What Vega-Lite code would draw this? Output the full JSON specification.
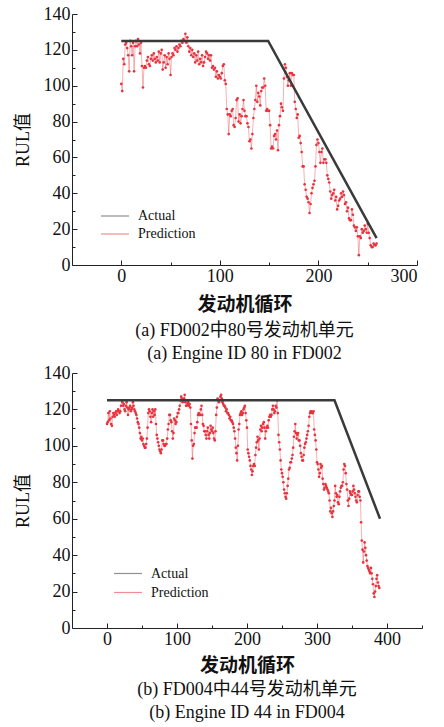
{
  "$schema": "https://vega.github.io/schema/vega-lite/v6.json",
  "padding": {"left": 14, "top": 5, "right": 0, "bottom": 0},
  "background": "white",
  "spacing": 1,
  "resolve": {"scale": {"color": "independent"}, "legend": {"color": "independent"}},
  "config": {
    "view": {"stroke": null},
    "font": "Liberation Serif, Noto Sans CJK SC",
    "axis": {
      "labelFont": "Liberation Serif", "labelFontSize": 18, "labelColor": "#111",
      "titleFont": "Liberation Serif, Noto Sans CJK SC", "titleFontSize": 18, "titleColor": "#111", "titleFontWeight": "normal",
      "domainColor": "#222", "tickColor": "#222", "grid": false
    },
    "axisX": {"labelPadding": 7, "titlePadding": 10},
    "axisY": {"labelPadding": 7, "titlePadding": 11},
    "legend": {"labelFont": "Liberation Serif", "labelFontSize": 14, "labelColor": "#111"},
    "title": {"font": "Liberation Serif, Noto Sans CJK SC", "fontSize": 18, "fontWeight": "normal", "color": "#111"}
  },
  "datasets": {
    "a1": [{"c":0,"v":125},{"c":149,"v":125},{"c":259,"v":15}],
    "a2": [{"c":0,"v":125},{"c":325,"v":125},{"c":390,"v":60}],
    "p1": [
{"c":0,"v":101},{"c":1,"v":97},{"c":2,"v":115},{"c":3,"v":112},{"c":4,"v":123},{"c":5,"v":124},{"c":6,"v":121},{"c":7,"v":117},{"c":8,"v":108},{"c":9,"v":125},
{"c":10,"v":122},{"c":11,"v":117},{"c":12,"v":124},{"c":13,"v":108},{"c":14,"v":122},{"c":15,"v":125},{"c":16,"v":122},{"c":17,"v":126},{"c":18,"v":123},{"c":19,"v":118},
{"c":20,"v":124},{"c":21,"v":111},{"c":22,"v":99},{"c":23,"v":110},{"c":24,"v":111},{"c":25,"v":110},{"c":26,"v":114},{"c":27,"v":116},{"c":28,"v":112},{"c":29,"v":111},
{"c":30,"v":115},{"c":31,"v":117},{"c":32,"v":114},{"c":33,"v":118},{"c":34,"v":115},{"c":35,"v":113},{"c":36,"v":116},{"c":37,"v":114},{"c":38,"v":119},{"c":39,"v":113},
{"c":40,"v":118},{"c":41,"v":120},{"c":42,"v":109},{"c":43,"v":113},{"c":44,"v":117},{"c":45,"v":110},{"c":46,"v":116},{"c":47,"v":112},{"c":48,"v":118},{"c":49,"v":115},
{"c":50,"v":106},{"c":51,"v":116},{"c":52,"v":118},{"c":53,"v":117},{"c":54,"v":121},{"c":55,"v":120},{"c":56,"v":122},{"c":57,"v":119},{"c":58,"v":121},{"c":59,"v":123},
{"c":60,"v":122},{"c":61,"v":125},{"c":62,"v":124},{"c":63,"v":126},{"c":64,"v":125},{"c":65,"v":129},{"c":66,"v":124},{"c":67,"v":127},{"c":68,"v":122},{"c":69,"v":119},
{"c":70,"v":121},{"c":71,"v":117},{"c":72,"v":120},{"c":73,"v":116},{"c":74,"v":118},{"c":75,"v":113},{"c":76,"v":117},{"c":77,"v":114},{"c":78,"v":119},{"c":79,"v":112},
{"c":80,"v":115},{"c":81,"v":113},{"c":82,"v":117},{"c":83,"v":111},{"c":84,"v":113},{"c":85,"v":116},{"c":86,"v":119},{"c":87,"v":118},{"c":88,"v":115},{"c":89,"v":117},
{"c":90,"v":114},{"c":91,"v":117},{"c":92,"v":110},{"c":93,"v":111},{"c":94,"v":109},{"c":95,"v":110},{"c":96,"v":105},{"c":97,"v":108},{"c":98,"v":104},{"c":99,"v":106},
{"c":100,"v":105},{"c":101,"v":104},{"c":102,"v":107},{"c":103,"v":111},{"c":104,"v":112},{"c":105,"v":103},{"c":106,"v":101},{"c":107,"v":87},{"c":108,"v":84},{"c":109,"v":73},
{"c":110,"v":84},{"c":111,"v":83},{"c":112,"v":86},{"c":113,"v":87},{"c":114,"v":78},{"c":115,"v":77},{"c":116,"v":82},{"c":117,"v":92},{"c":118,"v":93},{"c":119,"v":80},
{"c":120,"v":84},{"c":121,"v":79},{"c":122,"v":83},{"c":123,"v":87},{"c":124,"v":92},{"c":125,"v":86},{"c":126,"v":83},{"c":127,"v":83},{"c":128,"v":79},{"c":129,"v":77},
{"c":130,"v":69},{"c":131,"v":70},{"c":132,"v":65},{"c":133,"v":73},{"c":134,"v":82},{"c":135,"v":87},{"c":136,"v":92},{"c":137,"v":100},{"c":138,"v":91},{"c":139,"v":96},
{"c":140,"v":94},{"c":141,"v":89},{"c":142,"v":97},{"c":143,"v":99},{"c":144,"v":99},{"c":145,"v":104},{"c":146,"v":100},{"c":147,"v":86},{"c":148,"v":87},{"c":149,"v":86},
{"c":150,"v":86},{"c":151,"v":78},{"c":152,"v":65},{"c":153,"v":66},{"c":154,"v":65},{"c":155,"v":72},{"c":156,"v":73},{"c":157,"v":70},{"c":158,"v":75},{"c":159,"v":64},
{"c":160,"v":78},{"c":161,"v":83},{"c":162,"v":90},{"c":163,"v":88},{"c":164,"v":86},{"c":165,"v":104},{"c":166,"v":112},{"c":167,"v":110},{"c":168,"v":105},{"c":169,"v":100},
{"c":170,"v":103},{"c":171,"v":107},{"c":172,"v":100},{"c":173,"v":107},{"c":174,"v":106},{"c":175,"v":106},{"c":176,"v":91},{"c":177,"v":87},{"c":178,"v":82},{"c":179,"v":84},
{"c":180,"v":71},{"c":181,"v":72},{"c":182,"v":68},{"c":183,"v":63},{"c":184,"v":55},{"c":185,"v":55},{"c":186,"v":45},{"c":187,"v":42},{"c":188,"v":38},{"c":189,"v":37},
{"c":190,"v":35},{"c":191,"v":29},{"c":192,"v":34},{"c":193,"v":40},{"c":194,"v":43},{"c":195,"v":45},{"c":196,"v":47},{"c":197,"v":55},{"c":198,"v":67},{"c":199,"v":70},
{"c":200,"v":68},{"c":201,"v":63},{"c":202,"v":57},{"c":203,"v":63},{"c":204,"v":65},{"c":205,"v":57},{"c":206,"v":59},{"c":207,"v":59},{"c":208,"v":57},{"c":209,"v":50},
{"c":210,"v":48},{"c":211,"v":46},{"c":212,"v":41},{"c":213,"v":37},{"c":214,"v":39},{"c":215,"v":40},{"c":216,"v":42},{"c":217,"v":36},{"c":218,"v":38},{"c":219,"v":31},
{"c":220,"v":33},{"c":221,"v":36},{"c":222,"v":37},{"c":223,"v":40},{"c":224,"v":38},{"c":225,"v":41},{"c":226,"v":39},{"c":227,"v":34},{"c":228,"v":35},{"c":229,"v":30},
{"c":230,"v":32},{"c":231,"v":26},{"c":232,"v":25},{"c":233,"v":25},{"c":234,"v":31},{"c":235,"v":28},{"c":236,"v":22},{"c":237,"v":21},{"c":238,"v":19},{"c":239,"v":21},
{"c":240,"v":16},{"c":241,"v":5.5},{"c":242,"v":16},{"c":243,"v":15},{"c":244,"v":20},{"c":245,"v":18},{"c":246,"v":19},{"c":247,"v":22},{"c":248,"v":20},{"c":249,"v":18},
{"c":250,"v":23},{"c":251,"v":18},{"c":252,"v":15},{"c":253,"v":11},{"c":254,"v":10},{"c":255,"v":10},{"c":256,"v":12},{"c":257,"v":11},{"c":258,"v":11},{"c":259,"v":12}
    ],
    "p2": [
{"c":0,"v":112},{"c":1,"v":113},{"c":2,"v":118},{"c":3,"v":114},{"c":4,"v":119},{"c":5,"v":115},{"c":6,"v":112},{"c":7,"v":111},{"c":8,"v":116},{"c":9,"v":118},
{"c":10,"v":117},{"c":11,"v":116},{"c":12,"v":118},{"c":13,"v":119},{"c":14,"v":117},{"c":15,"v":119},{"c":16,"v":120},{"c":17,"v":119},{"c":18,"v":118},{"c":19,"v":119},
{"c":20,"v":122},{"c":21,"v":125},{"c":22,"v":124},{"c":23,"v":122},{"c":24,"v":123},{"c":25,"v":120},{"c":26,"v":119},{"c":27,"v":122},{"c":28,"v":124},{"c":29,"v":121},
{"c":30,"v":117},{"c":31,"v":120},{"c":32,"v":121},{"c":33,"v":122},{"c":34,"v":119},{"c":35,"v":120},{"c":36,"v":121},{"c":37,"v":124},{"c":38,"v":122},{"c":39,"v":120},
{"c":40,"v":119},{"c":41,"v":118},{"c":42,"v":117},{"c":43,"v":115},{"c":44,"v":113},{"c":45,"v":112},{"c":46,"v":110},{"c":47,"v":107},{"c":48,"v":104},{"c":49,"v":105},
{"c":50,"v":103},{"c":51,"v":104},{"c":52,"v":101},{"c":53,"v":100},{"c":54,"v":99},{"c":55,"v":99},{"c":56,"v":101},{"c":57,"v":104},{"c":58,"v":110},{"c":59,"v":118},
{"c":60,"v":120},{"c":61,"v":119},{"c":62,"v":116},{"c":63,"v":113},{"c":64,"v":118},{"c":65,"v":120},{"c":66,"v":116},{"c":67,"v":119},{"c":68,"v":117},{"c":69,"v":120},
{"c":70,"v":112},{"c":71,"v":106},{"c":72,"v":104},{"c":73,"v":102},{"c":74,"v":100},{"c":75,"v":98},{"c":76,"v":97},{"c":77,"v":96},{"c":78,"v":98},{"c":79,"v":103},
{"c":80,"v":103},{"c":81,"v":101},{"c":82,"v":100},{"c":83,"v":100},{"c":84,"v":101},{"c":85,"v":101},{"c":86,"v":104},{"c":87,"v":109},{"c":88,"v":112},{"c":89,"v":117},
{"c":90,"v":117},{"c":91,"v":114},{"c":92,"v":113},{"c":93,"v":108},{"c":94,"v":104},{"c":95,"v":107},{"c":96,"v":115},{"c":97,"v":114},{"c":98,"v":112},{"c":99,"v":113},
{"c":100,"v":116},{"c":101,"v":118},{"c":102,"v":118},{"c":103,"v":120},{"c":104,"v":122},{"c":105,"v":125},{"c":106,"v":127},{"c":107,"v":126},{"c":108,"v":124},{"c":109,"v":125},
{"c":110,"v":126},{"c":111,"v":128},{"c":112,"v":124},{"c":113,"v":122},{"c":114,"v":122},{"c":115,"v":123},{"c":116,"v":124},{"c":117,"v":122},{"c":118,"v":123},{"c":119,"v":121},
{"c":120,"v":112},{"c":121,"v":103},{"c":122,"v":93},{"c":123,"v":100},{"c":124,"v":101},{"c":125,"v":107},{"c":126,"v":110},{"c":127,"v":110},{"c":128,"v":110},{"c":129,"v":113},
{"c":130,"v":117},{"c":131,"v":118},{"c":132,"v":117},{"c":133,"v":117},{"c":134,"v":120},{"c":135,"v":122},{"c":136,"v":117},{"c":137,"v":112},{"c":138,"v":111},{"c":139,"v":108},
{"c":140,"v":108},{"c":141,"v":106},{"c":142,"v":104},{"c":143,"v":108},{"c":144,"v":110},{"c":145,"v":106},{"c":146,"v":104},{"c":147,"v":107},{"c":148,"v":111},{"c":149,"v":109},
{"c":150,"v":108},{"c":151,"v":110},{"c":152,"v":107},{"c":153,"v":104},{"c":154,"v":103},{"c":155,"v":108},{"c":156,"v":117},{"c":157,"v":121},{"c":158,"v":126},{"c":159,"v":125},
{"c":160,"v":124},{"c":161,"v":125},{"c":162,"v":127},{"c":163,"v":128},{"c":164,"v":126},{"c":165,"v":124},{"c":166,"v":123},{"c":167,"v":122},{"c":168,"v":122},{"c":169,"v":121},
{"c":170,"v":119},{"c":171,"v":120},{"c":172,"v":118},{"c":173,"v":118},{"c":174,"v":117},{"c":175,"v":115},{"c":176,"v":116},{"c":177,"v":114},{"c":178,"v":114},{"c":179,"v":113},
{"c":180,"v":112},{"c":181,"v":110},{"c":182,"v":108},{"c":183,"v":104},{"c":184,"v":99},{"c":185,"v":96},{"c":186,"v":92},{"c":187,"v":100},{"c":188,"v":109},{"c":189,"v":112},
{"c":190,"v":117},{"c":191,"v":118},{"c":192,"v":119},{"c":193,"v":117},{"c":194,"v":118},{"c":195,"v":120},{"c":196,"v":121},{"c":197,"v":122},{"c":198,"v":118},{"c":199,"v":114},
{"c":200,"v":110},{"c":201,"v":98},{"c":202,"v":96},{"c":203,"v":94},{"c":204,"v":92},{"c":205,"v":89},{"c":206,"v":87},{"c":207,"v":84},{"c":208,"v":86},{"c":209,"v":89},
{"c":210,"v":90},{"c":211,"v":89},{"c":212,"v":95},{"c":213,"v":99},{"c":214,"v":102},{"c":215,"v":105},{"c":216,"v":103},{"c":217,"v":98},{"c":218,"v":104},{"c":219,"v":109},
{"c":220,"v":111},{"c":221,"v":108},{"c":222,"v":110},{"c":223,"v":112},{"c":224,"v":113},{"c":225,"v":110},{"c":226,"v":104},{"c":227,"v":108},{"c":228,"v":110},{"c":229,"v":111},
{"c":230,"v":110},{"c":231,"v":114},{"c":232,"v":116},{"c":233,"v":117},{"c":234,"v":116},{"c":235,"v":117},{"c":236,"v":120},{"c":237,"v":122},{"c":238,"v":120},{"c":239,"v":118},
{"c":240,"v":119},{"c":241,"v":122},{"c":242,"v":121},{"c":243,"v":125},{"c":244,"v":118},{"c":245,"v":106},{"c":246,"v":102},{"c":247,"v":98},{"c":248,"v":92},{"c":249,"v":87},
{"c":250,"v":85},{"c":251,"v":83},{"c":252,"v":80},{"c":253,"v":76},{"c":254,"v":74},{"c":255,"v":72},{"c":256,"v":71},{"c":257,"v":74},{"c":258,"v":78},{"c":259,"v":82},
{"c":260,"v":87},{"c":261,"v":88},{"c":262,"v":91},{"c":263,"v":91},{"c":264,"v":93},{"c":265,"v":95},{"c":266,"v":99},{"c":267,"v":105},{"c":268,"v":108},{"c":269,"v":112},
{"c":270,"v":107},{"c":271,"v":104},{"c":272,"v":106},{"c":273,"v":107},{"c":274,"v":103},{"c":275,"v":103},{"c":276,"v":100},{"c":277,"v":96},{"c":278,"v":94},{"c":279,"v":92},
{"c":280,"v":92},{"c":281,"v":95},{"c":282,"v":99},{"c":283,"v":101},{"c":284,"v":102},{"c":285,"v":104},{"c":286,"v":106},{"c":287,"v":108},{"c":288,"v":111},{"c":289,"v":116},
{"c":290,"v":118},{"c":291,"v":119},{"c":292,"v":119},{"c":293,"v":118},{"c":294,"v":118},{"c":295,"v":119},{"c":296,"v":109},{"c":297,"v":106},{"c":298,"v":103},{"c":299,"v":98},
{"c":300,"v":91},{"c":301,"v":90},{"c":302,"v":87},{"c":303,"v":83},{"c":304,"v":85},{"c":305,"v":90},{"c":306,"v":88},{"c":307,"v":89},{"c":308,"v":82},{"c":309,"v":79},
{"c":310,"v":76},{"c":311,"v":77},{"c":312,"v":79},{"c":313,"v":78},{"c":314,"v":77},{"c":315,"v":76},{"c":316,"v":75},{"c":317,"v":74},{"c":318,"v":70},{"c":319,"v":64},
{"c":320,"v":66},{"c":321,"v":63},{"c":322,"v":61},{"c":323,"v":64},{"c":324,"v":67},{"c":325,"v":70},{"c":326,"v":78},{"c":327,"v":74},{"c":328,"v":72},{"c":329,"v":73},
{"c":330,"v":69},{"c":331,"v":68},{"c":332,"v":72},{"c":333,"v":75},{"c":334,"v":77},{"c":335,"v":78},{"c":336,"v":78},{"c":337,"v":80},{"c":338,"v":87},{"c":339,"v":90},
{"c":340,"v":89},{"c":341,"v":85},{"c":342,"v":79},{"c":343,"v":76},{"c":344,"v":70},{"c":345,"v":67},{"c":346,"v":71},{"c":347,"v":75},{"c":348,"v":74},{"c":349,"v":73},
{"c":350,"v":73},{"c":351,"v":75},{"c":352,"v":78},{"c":353,"v":76},{"c":354,"v":74},{"c":355,"v":72},{"c":356,"v":70},{"c":357,"v":69},{"c":358,"v":73},{"c":359,"v":75},
{"c":360,"v":75},{"c":361,"v":72},{"c":362,"v":70},{"c":363,"v":58},{"c":364,"v":48},{"c":365,"v":43},{"c":366,"v":36},{"c":367,"v":42},{"c":368,"v":47},{"c":369,"v":44},
{"c":370,"v":40},{"c":371,"v":37},{"c":372,"v":34},{"c":373,"v":33},{"c":374,"v":32},{"c":375,"v":31},{"c":376,"v":30},{"c":377,"v":33},{"c":378,"v":30},{"c":379,"v":27},
{"c":380,"v":24},{"c":381,"v":19},{"c":382,"v":17},{"c":383,"v":20},{"c":384,"v":23},{"c":385,"v":27},{"c":386,"v":29},{"c":387,"v":25},{"c":388,"v":23},{"c":389,"v":22}
    ]
  },
  "vconcat": [
    {
      "width": 345, "height": 251,
      "title": {"text": ["(a) FD002中80号发动机单元", "(a) Engine ID 80 in FD002"], "orient": "bottom", "anchor": "middle", "frame": "group", "lineHeight": 23, "offset": 8},
      "resolve": {"axis": {"x": "independent", "y": "independent"}},
      "layer": [
        {
          "data": {"name": "p1"},
          "mark": {"type": "line", "strokeWidth": 0.7, "opacity": 0.55},
          "encoding": {
            "x": {"field": "c", "type": "quantitative", "scale": {"domain": [-50, 300], "nice": false, "zero": false},
                  "axis": {"values": [0, 100, 200, 300], "tickSize": -5, "title": "发动机循环", "titleFontWeight": "bold", "titleFontSize": 19, "orient": "bottom"}},
            "y": {"field": "v", "type": "quantitative", "scale": {"domain": [0, 140], "nice": false},
                  "axis": {"values": [0, 20, 40, 60, 80, 100, 120, 140], "tickSize": -5, "title": "RUL值", "orient": "left"}},
            "color": {"datum": "Prediction", "type": "nominal",
                      "scale": {"domain": ["Actual", "Prediction"], "range": ["#3a3a3a", "#e8323c"]},
                      "legend": {"orient": "none", "legendX": 28, "legendY": 194, "title": null, "symbolType": "stroke", "symbolSize": 784, "symbolStrokeWidth": 1.2, "clipHeight": 16, "padding": 0, "labelOffset": 8}}
          }
        },
        {
          "data": {"name": "p1"},
          "mark": {"type": "point", "filled": true, "size": 7, "opacity": 1},
          "encoding": {
            "x": {"field": "c", "type": "quantitative", "axis": {"values": [50, 150, 250], "tickSize": -3, "labels": false, "domain": false, "title": null, "orient": "bottom"}},
            "y": {"field": "v", "type": "quantitative", "axis": {"values": [10, 30, 50, 70, 90, 110, 130], "tickSize": -3, "labels": false, "domain": false, "title": null, "orient": "left"}},
            "color": {"datum": "Prediction", "type": "nominal"}
          }
        },
        {
          "data": {"name": "a1"},
          "mark": {"type": "line", "strokeWidth": 2.5},
          "encoding": {
            "x": {"field": "c", "type": "quantitative", "axis": null},
            "y": {"field": "v", "type": "quantitative", "axis": null},
            "color": {"datum": "Actual", "type": "nominal"}
          }
        }
      ]
    },
    {
      "width": 350, "height": 255,
      "title": {"text": ["(b) FD004中44号发动机单元", "(b) Engine ID 44 in FD004"], "orient": "bottom", "anchor": "middle", "frame": "group", "lineHeight": 23, "offset": 6},
      "resolve": {"axis": {"x": "independent", "y": "independent"}},
      "layer": [
        {
          "data": {"name": "p2"},
          "mark": {"type": "line", "strokeWidth": 0.7, "opacity": 0.55},
          "encoding": {
            "x": {"field": "c", "type": "quantitative", "scale": {"domain": [-50, 450], "nice": false, "zero": false},
                  "axis": {"values": [0, 100, 200, 300, 400], "tickSize": -5, "title": "发动机循环", "titleFontWeight": "bold", "titleFontSize": 19, "titlePadding": 8, "orient": "bottom"}},
            "y": {"field": "v", "type": "quantitative", "scale": {"domain": [0, 140], "nice": false},
                  "axis": {"values": [0, 20, 40, 60, 80, 100, 120, 140], "tickSize": -5, "title": "RUL值", "orient": "left"}},
            "color": {"datum": "Prediction", "type": "nominal",
                      "scale": {"domain": ["Actual", "Prediction"], "range": ["#3a3a3a", "#e8323c"]},
                      "legend": {"orient": "none", "legendX": 41, "legendY": 192, "title": null, "symbolType": "stroke", "symbolSize": 784, "symbolStrokeWidth": 1.2, "clipHeight": 17, "padding": 0, "labelOffset": 8}}
          }
        },
        {
          "data": {"name": "p2"},
          "mark": {"type": "point", "filled": true, "size": 7, "opacity": 1},
          "encoding": {
            "x": {"field": "c", "type": "quantitative", "axis": {"values": [50, 150, 250, 350, 450], "tickSize": -3, "labels": false, "domain": false, "title": null, "orient": "bottom"}},
            "y": {"field": "v", "type": "quantitative", "axis": {"values": [10, 30, 50, 70, 90, 110, 130], "tickSize": -3, "labels": false, "domain": false, "title": null, "orient": "left"}},
            "color": {"datum": "Prediction", "type": "nominal"}
          }
        },
        {
          "data": {"name": "a2"},
          "mark": {"type": "line", "strokeWidth": 2.5},
          "encoding": {
            "x": {"field": "c", "type": "quantitative", "axis": null},
            "y": {"field": "v", "type": "quantitative", "axis": null},
            "color": {"datum": "Actual", "type": "nominal"}
          }
        }
      ]
    }
  ]
}
